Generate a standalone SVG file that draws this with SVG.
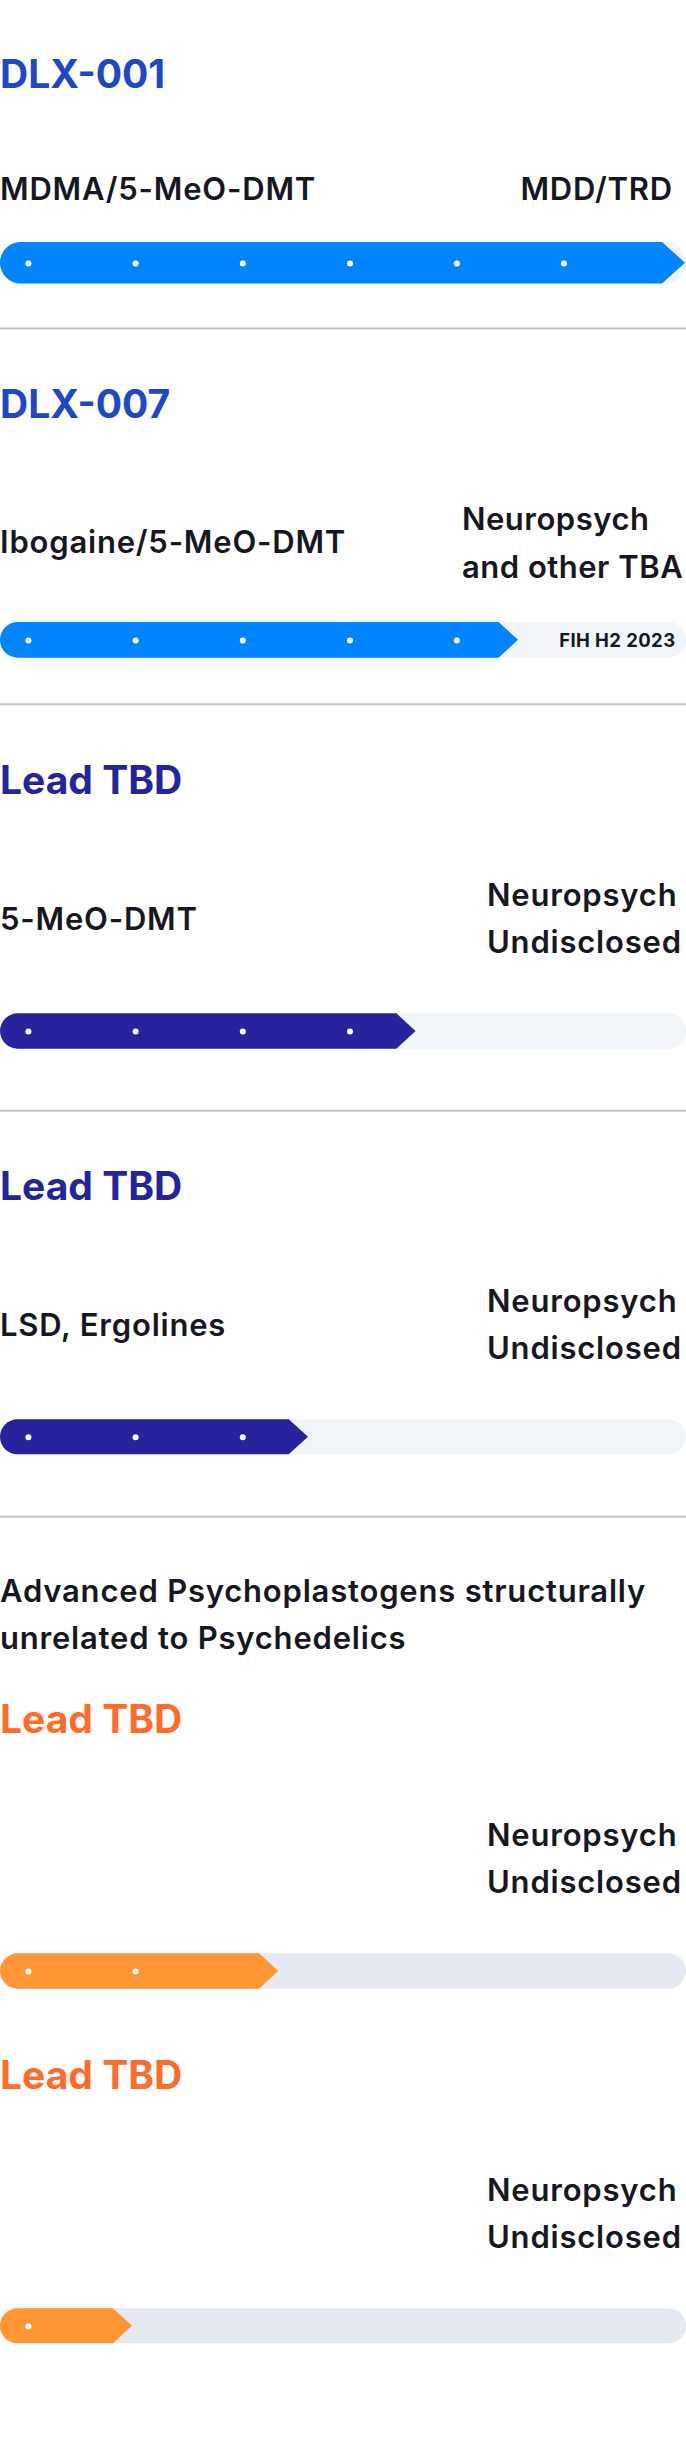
<svg xmlns="http://www.w3.org/2000/svg" width="686" height="2462" viewBox="0 0 686 2462">
<style>
text{font-family:Inter,"Noto Sans","Liberation Sans",sans-serif;}
.title{font-size:39px;font-weight:700;letter-spacing:0px;}
.t-blue{fill:#2047c8;}
.t-purple{fill:#27239c;}
.t-orange{fill:#ff6b2b;}
.body{font-size:31px;font-weight:600;fill:#17171f;letter-spacing:0.8px;}
.tight{letter-spacing:0.5px;}
.small{font-size:18.5px;font-weight:700;fill:#17171f;letter-spacing:0.4px;}
.track{fill:#f1f5f9;}
.track2{fill:#e5eaf2;}
.f-blue{fill:#0084ff;}
.f-purple{fill:#27239c;}
.f-orange{fill:#ff9533;}
.dot{fill:#ffffff;}
.sep{stroke:#c4c4c4;stroke-width:2;}
</style>
<rect width="686" height="2462" fill="#ffffff"/>
<g id="separators">
<line class="sep" x1="0" y1="328.5" x2="686" y2="328.5"/>
<line class="sep" x1="0" y1="704.3" x2="686" y2="704.3"/>
<line class="sep" x1="0" y1="1110.7" x2="686" y2="1110.7"/>
<line class="sep" x1="0" y1="1516.7" x2="686" y2="1516.7"/>
</g>
<g id="dlx001">
<text class="title t-blue" x="0" y="88.3">DLX-001</text>
<text class="body" x="0" y="200">MDMA/5-MeO-DMT</text>
<text class="body" x="673" y="200" text-anchor="end">MDD/TRD</text>
<rect class="track" x="0" y="242" width="686" height="41.5" rx="20.75"/>
<path class="f-blue" d="M20.75,242H662L685,262.75L662,283.5H20.75A20.75,20.75 0 0 1 20.75,242Z"/>
<g class="dot"><circle cx="28.4" cy="263.5" r="3"/><circle cx="135.6" cy="263.5" r="3"/><circle cx="242.8" cy="263.5" r="3"/><circle cx="350" cy="263.5" r="3"/><circle cx="456.9" cy="263.5" r="3"/><circle cx="564" cy="263.5" r="3"/></g>
</g>
<g id="dlx007">
<text class="title t-blue" x="0" y="418.3">DLX-007</text>
<text class="body" x="0" y="553.3">Ibogaine/5-MeO-DMT</text>
<text class="body tight" x="462" y="530">Neuropsych</text>
<text class="body tight" x="462" y="577.7">and other TBA</text>
<rect class="track" x="0" y="622" width="686" height="35.7" rx="17.85"/>
<path class="f-blue" d="M17.85,622H498.5L518,639.85L498.5,657.7H17.85A17.85,17.85 0 0 1 17.85,622Z"/>
<g class="dot"><circle cx="28.4" cy="640.5" r="3"/><circle cx="135.6" cy="640.5" r="3"/><circle cx="242.8" cy="640.5" r="3"/><circle cx="350" cy="640.5" r="3"/><circle cx="456.9" cy="640.5" r="3"/></g>
<text class="small" x="675.5" y="647.3" text-anchor="end">FIH H2 2023</text>
</g>
<g id="lead1">
<text class="title t-purple" x="0" y="794">Lead TBD</text>
<text class="body" x="0" y="930">5-MeO-DMT</text>
<text class="body" x="487" y="905.7">Neuropsych</text>
<text class="body" x="487" y="953.3">Undisclosed</text>
<rect class="track" x="0" y="1013.3" width="686" height="35.4" rx="17.7"/>
<path class="f-purple" d="M17.7,1013.3H396.3L415.6,1031L396.3,1048.7H17.7A17.7,17.7 0 0 1 17.7,1013.3Z"/>
<g class="dot"><circle cx="28.4" cy="1031.5" r="3"/><circle cx="135.6" cy="1031.5" r="3"/><circle cx="242.8" cy="1031.5" r="3"/><circle cx="350" cy="1031.5" r="3"/></g>
</g>
<g id="lead2">
<text class="title t-purple" x="0" y="1200">Lead TBD</text>
<text class="body" x="0" y="1336">LSD, Ergolines</text>
<text class="body" x="487" y="1311.7">Neuropsych</text>
<text class="body" x="487" y="1359.3">Undisclosed</text>
<rect class="track" x="0" y="1419.3" width="686" height="35" rx="17.5"/>
<path class="f-purple" d="M17.5,1419.3H288.7L308,1436.8L288.7,1454.3H17.5A17.5,17.5 0 0 1 17.5,1419.3Z"/>
<g class="dot"><circle cx="28.4" cy="1437.3" r="3"/><circle cx="135.6" cy="1437.3" r="3"/><circle cx="242.8" cy="1437.3" r="3"/></g>
</g>
<g id="advanced">
<text class="body" x="0" y="1601.7">Advanced Psychoplastogens structurally</text>
<text class="body" x="0" y="1649.3">unrelated to Psychedelics</text>
</g>
<g id="lead3">
<text class="title t-orange" x="0" y="1733.3">Lead TBD</text>
<text class="body" x="487" y="1845.7">Neuropsych</text>
<text class="body" x="487" y="1893.3">Undisclosed</text>
<rect class="track2" x="0" y="1953.3" width="686" height="35.4" rx="17.7"/>
<path class="f-orange" d="M17.7,1953.3H259L278.2,1971L259,1988.7H17.7A17.7,17.7 0 0 1 17.7,1953.3Z"/>
<g class="dot"><circle cx="28.4" cy="1971.5" r="3"/><circle cx="135.6" cy="1971.5" r="3"/></g>
</g>
<g id="lead4">
<text class="title t-orange" x="0" y="2089.3">Lead TBD</text>
<text class="body" x="487" y="2200.7">Neuropsych</text>
<text class="body" x="487" y="2248.3">Undisclosed</text>
<rect class="track2" x="0" y="2308.3" width="686" height="35" rx="17.5"/>
<path class="f-orange" d="M17.5,2308.3H113L132,2325.8L113,2343.3H17.5A17.5,17.5 0 0 1 17.5,2308.3Z"/>
<g class="dot"><circle cx="28.4" cy="2326.5" r="3"/></g>
</g>
</svg>
